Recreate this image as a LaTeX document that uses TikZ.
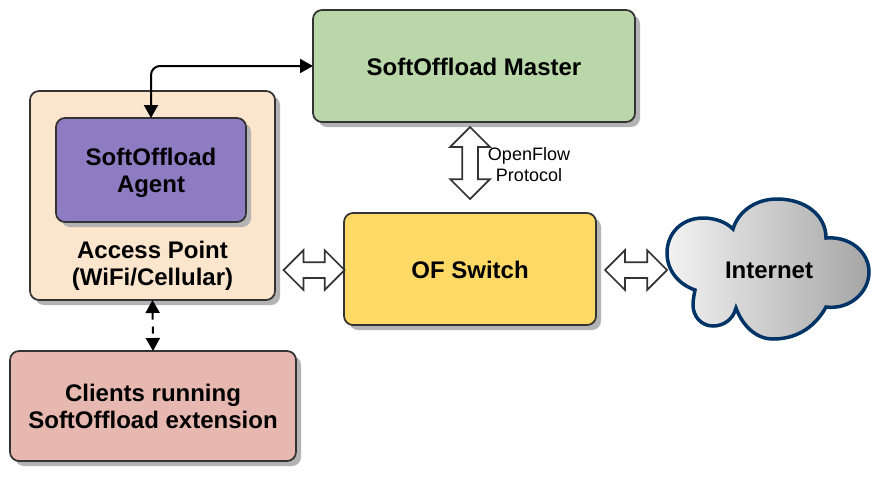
\documentclass[tikz,border=0pt]{standalone}
\usepackage{fontspec}
\setmainfont{Liberation Sans}
\usetikzlibrary{arrows.meta,shadows,shapes.arrows}
\definecolor{masterfill}{HTML}{B9D7A8}
\definecolor{apfill}{HTML}{FCE5CD}
\definecolor{agentfill}{HTML}{8E7CC3}
\definecolor{switchfill}{HTML}{FFD966}
\definecolor{clientfill}{HTML}{E6B8AF}
\definecolor{edgegray}{HTML}{333333}
\definecolor{cloudblue}{HTML}{003366}
\definecolor{shadowgray}{HTML}{B3B3B3}
\tikzset{
  box/.style={draw=edgegray,line width=1.75pt,rounded corners=9pt,outer sep=0pt,inner sep=0pt,
    align=center,font=\fontsize{24}{27}\selectfont\bfseries,
    drop shadow={shadow xshift=5pt,shadow yshift=-5pt,fill=shadowgray,opacity=1}},
  boxlabel/.style={align=center,font=\fontsize{24}{27}\selectfont\bfseries},
  link/.style={line width=2pt,{Triangle[length=13pt,width=14pt]}-{Triangle[length=13pt,width=14pt]}},
  fatarrow/.style={double arrow,draw=edgegray,fill=white,line width=1.75pt,outer sep=0pt,
    inner sep=7pt,minimum width=38pt,double arrow head extend=12pt}
}
\begin{document}
\begin{tikzpicture}[x=1pt,y=-1pt]
  \useasboundingbox (0,0) rectangle (890,480);
  % boxes
  \node[box,fill=masterfill,minimum width=322pt,minimum height=112pt,text height=19.5pt] (master) at (474,66) {SoftOffload Master};
  \node[box,fill=apfill,minimum width=245pt,minimum height=209pt] (ap) at (152.5,195.5) {};
  \node[box,fill=agentfill,minimum width=190pt,minimum height=104pt,text height=50.5pt] (agent) at (151,170) {SoftOffload\\Agent};
  \node[boxlabel] (aplabel) at (152.5,266) {Access Point\\(WiFi/Cellular)};
  \node[box,fill=switchfill,minimum width=252pt,minimum height=112pt,text height=19.5pt] (switch) at (470,269) {OF Switch};
  \node[box,fill=clientfill,minimum width=286pt,minimum height=110pt] (clients) at (153,406) {Clients running\\SoftOffload extension};
  % cloud
  \draw[draw=cloudblue,line width=3.5pt,left color=black!5,right color=black!35]
    (695,290) .. controls (678,284) and (667,270) .. (667,253)
    .. controls (667,233) and (682,218) .. (703,218)
    .. controls (715,218) and (726,222) .. (733,229)
    .. controls (738,212) and (755,199) .. (777,199)
    .. controls (805,199) and (826,215) .. (826,238)
    .. controls (850,236) and (869,252) .. (869,272)
    .. controls (869,292) and (850,310) .. (826,307)
    .. controls (815,327) and (797,339) .. (773,339)
    .. controls (757,339) and (743,327) .. (736,308)
    .. controls (733,320) and (723,326) .. (713,326)
    .. controls (701,326) and (693,316) .. (693,305)
    .. controls (693,300) and (694,295) .. (695,290) -- cycle;
  \node[boxlabel] (internet) at (769,270) {Internet};
  % arrows
  \draw[link,rounded corners=9pt] (agent.north) |- (master.west);
  \draw[link,dashed,dash pattern=on 7pt off 7pt] (ap.south) -- (clients.north);
  \node[fatarrow,minimum height=72pt,rotate=90] (ofarrow) at (470,163) {};
  \node[fatarrow,minimum height=61pt] (aparrow) at (314,270) {};
  \node[fatarrow,minimum height=62pt] (netarrow) at (636,270) {};
  \node[align=center,font=\fontsize{18}{21}\selectfont] (oflabel) at (529,165) {OpenFlow\\Protocol};
\end{tikzpicture}
\end{document}
